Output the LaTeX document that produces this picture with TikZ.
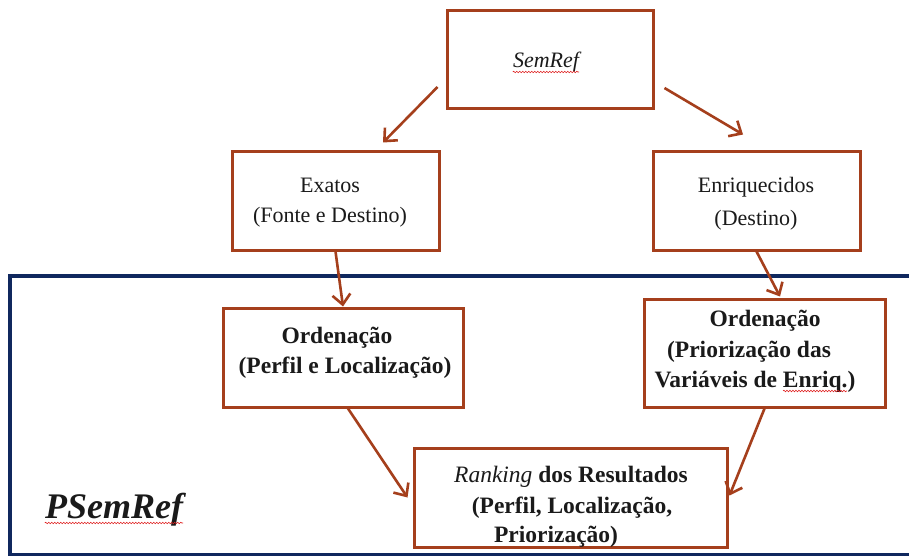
\documentclass[tikz,border=0pt]{standalone}
\usepackage{fontspec}
\setmainfont{Liberation Serif}
\usetikzlibrary{arrows.meta,calc,decorations.pathmorphing}

\definecolor{boxred}{HTML}{A53F1C}
\definecolor{framenavy}{HTML}{10285E}
\definecolor{inkdark}{HTML}{1A1A1A}
\definecolor{spellred}{HTML}{E02020}

\tikzset{
  stagebox/.style={draw=boxred, line width=3pt, rectangle, inner sep=0pt, fill=white},
  lbl/.style={anchor=base, inner sep=0pt, text=inkdark, font=\fontsize{22}{26}\selectfont},
  blbl/.style={anchor=base, inner sep=0pt, text=inkdark, font=\fontsize{23.5}{27}\selectfont\bfseries},
  link/.style={draw=boxred, line width=2.6pt, -{Straight Barb[length=10pt,width=18pt,line width=2.6pt]}},
  squiggle/.style={draw=spellred, line width=0.6pt,
    decorate, decoration={snake, amplitude=0.8pt, segment length=3pt}}
}

\begin{document}
\begin{tikzpicture}[x=1pt,y=-1pt]
  \useasboundingbox (0,0) rectangle (909,556);
  \fill[white] (0,0) rectangle (909,556);

  % frame around the PSemRef part (open to the right)
  \draw[framenavy, line width=3.5pt] (915,276) -- (10,276) -- (10,555) -- (915,555);

  % stage boxes
  \node[stagebox, minimum width=206pt, minimum height=98pt]  (semref) at (550,60)    {};
  \node[stagebox, minimum width=207pt, minimum height=98pt]  (exatos) at (335.5,201) {};
  \node[stagebox, minimum width=207pt, minimum height=98pt]  (enriq)  at (756.5,201) {};
  \node[stagebox, minimum width=240pt, minimum height=99pt]  (ordL)   at (343,357.5) {};
  \node[stagebox, minimum width=241pt, minimum height=108pt] (ordR)   at (764.5,353) {};
  \node[stagebox, minimum width=313pt, minimum height=99pt]  (rank)   at (570.5,497.5) {};

  % labels
  \node[lbl] (tSem) at (546,68) {\itshape SemRef};
  \node[lbl] (tEx1) at (330,193) {Exatos};
  \node[lbl] (tEx2) at (330,222) {(Fonte e Destino)};
  \node[lbl] (tEn1) at (756,193) {Enriquecidos};
  \node[lbl] (tEn2) at (756,225) {(Destino)};
  \node[blbl] (tOL1) at (337,343) {Ordenação};
  \node[blbl] (tOL2) at (345,373) {(Perfil e Localização)};
  \node[blbl] (tOR1) at (765,326) {Ordenação};
  \node[blbl] (tOR2) at (749,357) {(Priorização das};
  \node[blbl] (tOR3) at (755,387) {Variáveis de Enriq.)};
  \node[blbl] (tRk1) at (571,482) {\mdseries\itshape Ranking\/\upshape\bfseries{} dos Resultados};
  \node[blbl] (tRk2) at (572,513) {(Perfil, Localização,};
  \node[blbl] (tRk3) at (556,542) {Priorização)};
  \node[anchor=base, inner sep=0pt, text=inkdark, font=\fontsize{36}{40}\selectfont\bfseries\itshape]
    (tPS) at (114,518) {PSemRef};

  % spell-check squiggles
  \draw[squiggle] ($(tSem.base west)+(0,4)$) -- ($(tSem.base east)+(0,4)$);
  \draw[squiggle] ($(tPS.base west)+(0,5)$) -- ($(tPS.base east)+(0,5)$);
  \draw[squiggle] (783,391) -- (847,391);

  % connectors
  \draw[link] ($(semref.west)+(-8,27)$) -- ($(exatos.north)+(47.5,-8)$);
  \draw[link] ($(semref.east)+(10,28)$) -- ($(enriq.north)+(-13.5,-16)$);
  \draw[link] (exatos.south) -- (ordL.north);
  \draw[link] (enriq.south) -- ($(ordR.north)+(15.5,-1)$);
  \draw[link] ($(ordL.south)+(5,0)$) -- ($(rank.west)+(-5,0)$);
  \draw[link] (ordR.south) -- ($(rank.east)+(1,-2)$);
\end{tikzpicture}
\end{document}
